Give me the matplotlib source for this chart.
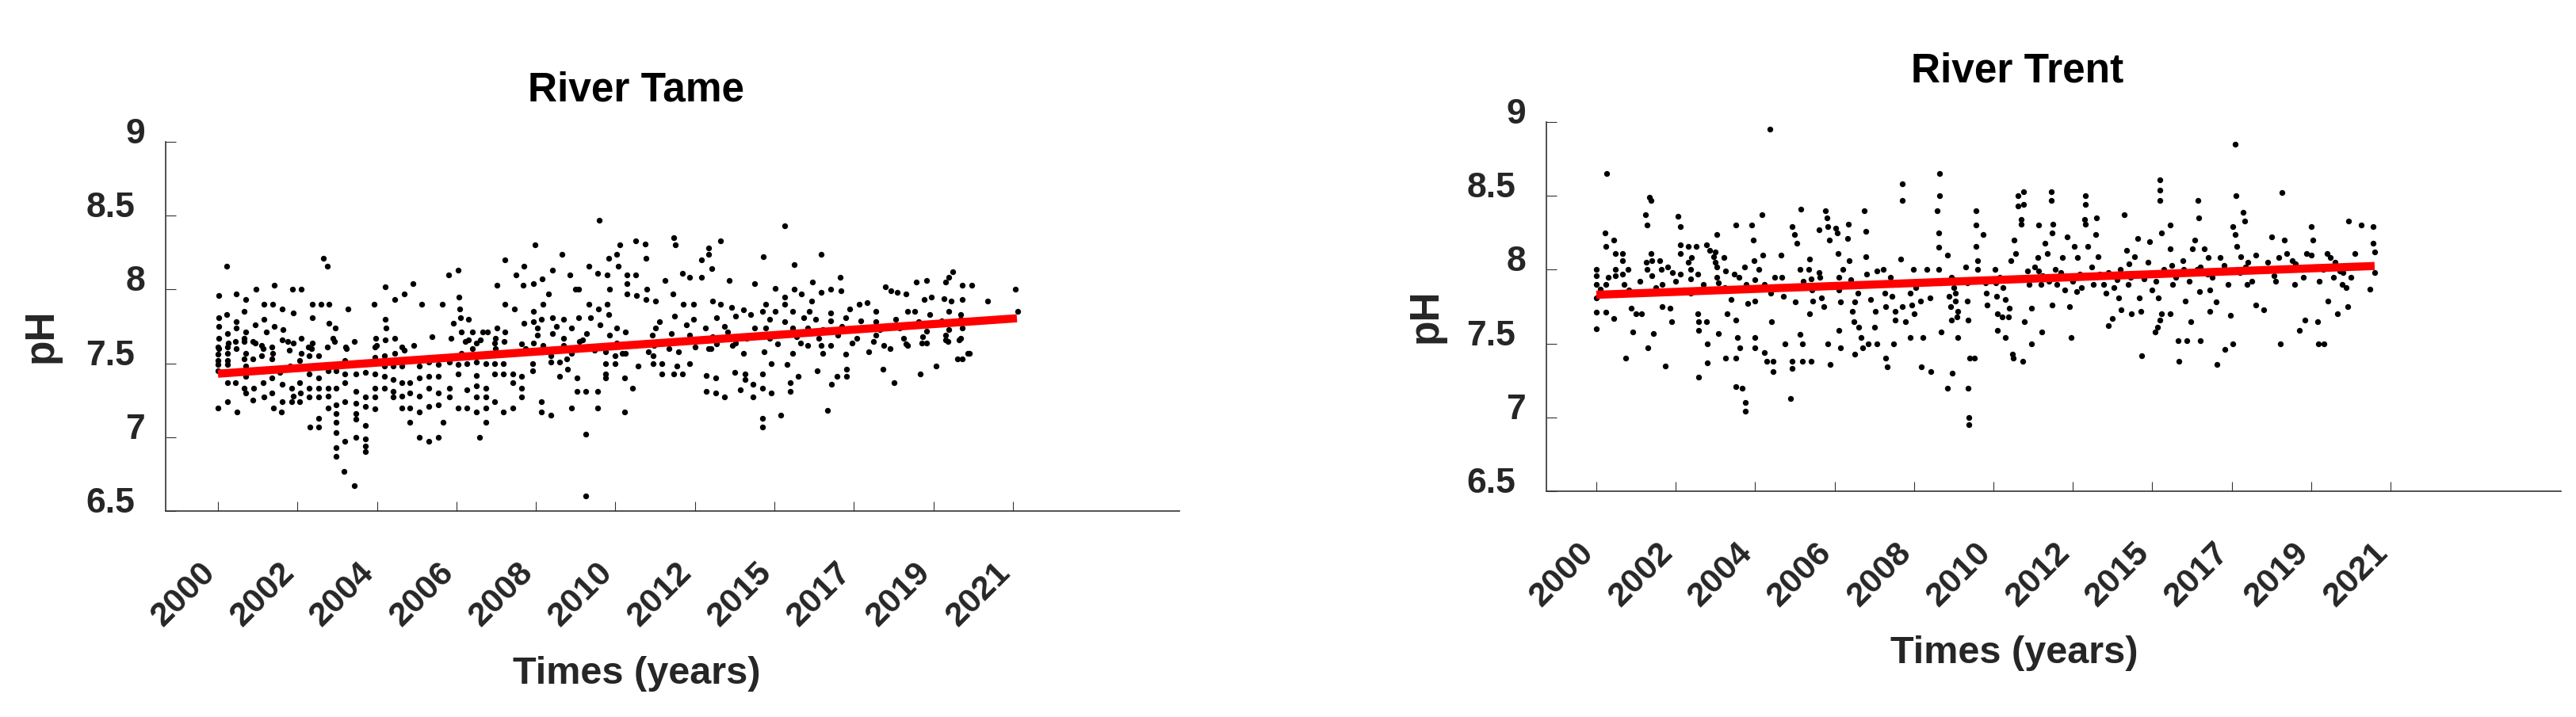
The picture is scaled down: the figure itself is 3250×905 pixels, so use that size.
import matplotlib
matplotlib.use("Agg")
import matplotlib.pyplot as plt
from matplotlib.transforms import ScaledTranslation

plt.rcParams['font.family'] = ['Liberation Sans', 'DejaVu Sans']
plt.rcParams['font.weight'] = 'bold'

# ---------------- data ----------------
year_labels = ["2000", "2002", "2004", "2006", "2008", "2010",
               "2012", "2015", "2017", "2019", "2021"]
ph_ticks = [6.5, 7, 7.5, 8, 8.5, 9]
ph_tick_labels = ["6.5", "7", "7.5", "8", "8.5", "9"]

# (position along the sampled time axis, pH)
tame_points = [
    (0.11, 8.16), (0.01, 7.96), (0.23, 7.97), (0.35, 7.93), (0.48, 8.00), (0.71, 8.03), (0.94, 8.00), (1.05, 8.00),
    (0.58, 7.90), (0.69, 7.90), (0.81, 7.87), (0.95, 7.84), (0.33, 7.85), (0.11, 7.83), (0.01, 7.81), (0.23, 7.78),
    (0.58, 7.80), (1.19, 7.81), (0.01, 7.75), (0.23, 7.74), (0.47, 7.76), (0.71, 7.75), (0.12, 7.70), (0.35, 7.71),
    (0.82, 7.73), (0.61, 7.71), (0.01, 7.67), (0.33, 7.67), (0.81, 7.66), (1.05, 7.67), (0.13, 7.64), (0.47, 7.64),
    (0.95, 7.64), (1.19, 7.64), (0.01, 7.60), (0.23, 7.60), (0.57, 7.60), (0.90, 7.59), (1.18, 7.60), (0.12, 7.57),
    (0.35, 7.57), (0.69, 7.57), (1.05, 7.57),
    (1.33, 8.21), (1.38, 8.16), (1.64, 7.87), (1.19, 7.90), (1.30, 7.90), (1.40, 7.90), (1.40, 7.77), (1.48, 7.74),
    (1.45, 7.67), (1.62, 7.60), (1.96, 7.90), (2.10, 8.02), (2.22, 7.93), (2.34, 7.97), (2.45, 8.04), (2.56, 7.90),
    (2.10, 7.80), (2.11, 7.74), (1.98, 7.67), (2.10, 7.66), (2.22, 7.67), (1.99, 7.62), (2.22, 7.57), (2.34, 7.59),
    (2.46, 7.62),
    (2.82, 7.90), (2.90, 8.10), (3.02, 8.13), (3.03, 7.95), (3.04, 7.87), (3.05, 7.81), (2.96, 7.77), (3.15, 7.80),
    (3.06, 7.71), (3.20, 7.71), (3.33, 7.71), (2.69, 7.68), (2.93, 7.67), (3.51, 8.03), (3.61, 8.20), (3.61, 7.90),
    (3.73, 7.87), (3.85, 8.16), (3.75, 8.10), (3.84, 8.03), (3.97, 8.04), (3.97, 7.85), (3.85, 7.77), (3.97, 7.78),
    (3.51, 7.74), (3.61, 7.71), (3.39, 7.71), (3.15, 7.66), (3.30, 7.66), (3.49, 7.67), (3.20, 7.60), (3.49, 7.60),
    (3.87, 7.60), (3.06, 7.57), (3.39, 7.56), (3.73, 7.57),
    (3.99, 8.30), (4.08, 8.07), (4.16, 7.97), (4.09, 7.90), (4.21, 8.13), (4.33, 8.24), (4.43, 8.10), (4.50, 8.00),
    (4.54, 8.00), (4.67, 8.16), (4.78, 8.11), (4.90, 8.10), (4.80, 8.47), (4.92, 8.21), (5.02, 8.24), (5.04, 8.16),
    (4.93, 8.00), (4.90, 7.90), (4.79, 7.87), (4.67, 7.90), (4.92, 7.83), (5.05, 8.30), (5.14, 8.10), (5.14, 8.04),
    (5.25, 8.10), (5.25, 8.33), (5.37, 8.31), (5.38, 8.21), (5.14, 7.97), (5.26, 7.96), (5.39, 8.00), (5.38, 7.93),
    (4.07, 7.80), (4.21, 7.81), (4.35, 7.80), (4.54, 7.81), (4.69, 7.81), (4.02, 7.74), (4.26, 7.75), (4.45, 7.74),
    (4.81, 7.76), (5.02, 7.74), (4.02, 7.69), (4.21, 7.70), (4.35, 7.67), (4.64, 7.70), (4.93, 7.69), (5.12, 7.71),
    (3.97, 7.64), (4.35, 7.62), (4.59, 7.66), (5.02, 7.64), (5.26, 7.62), (4.08, 7.58), (4.45, 7.57), (4.74, 7.59),
    (5.12, 7.57),
    (5.50, 7.92), (5.62, 8.06), (5.73, 8.35), (5.75, 8.30), (5.72, 7.97), (5.84, 8.11), (5.93, 8.08), (6.08, 8.08),
    (5.85, 7.90), (5.98, 7.90), (6.08, 8.20), (6.17, 8.28), (6.17, 8.24), (6.21, 8.14), (6.32, 8.33), (6.43, 8.06),
    (6.22, 7.92), (6.32, 7.90), (6.46, 7.88), (6.61, 7.86), (6.75, 8.04), (5.55, 7.78), (5.74, 7.82), (5.98, 7.80),
    (6.27, 7.81), (6.51, 7.82), (6.70, 7.83), (5.50, 7.74), (5.89, 7.76), (6.13, 7.74), (6.37, 7.75), (6.75, 7.74),
    (5.46, 7.69), (5.70, 7.70), (5.93, 7.69), (6.22, 7.68), (6.41, 7.71), (6.65, 7.67), (5.60, 7.64), (5.98, 7.66),
    (6.27, 7.63), (6.51, 7.64), (5.41, 7.58), (5.79, 7.58), (6.17, 7.60), (6.61, 7.57),
    (6.86, 8.22), (7.01, 8.01), (7.13, 8.43), (7.25, 8.17), (7.25, 8.00), (7.13, 7.95), (7.13, 7.90), (7.34, 7.97),
    (7.48, 8.05), (7.59, 8.24), (7.47, 7.92), (7.59, 7.98), (7.71, 8.00), (7.83, 8.08), (7.84, 7.99), (6.85, 7.85),
    (6.89, 7.90), (7.01, 7.85), (7.23, 7.85), (7.44, 7.85), (7.71, 7.84), (7.95, 7.87), (8.07, 7.90), (8.17, 7.91),
    (6.94, 7.80), (7.13, 7.78), (7.37, 7.81), (7.52, 7.80), (7.71, 7.79), (7.90, 7.81), (8.09, 7.79), (6.89, 7.74),
    (7.23, 7.74), (7.42, 7.74), (7.61, 7.73), (7.85, 7.75), (8.09, 7.74), (6.94, 7.67), (7.28, 7.68), (7.56, 7.67),
    (7.80, 7.69), (8.04, 7.67), (7.04, 7.63), (7.42, 7.62), (7.71, 7.62), (7.98, 7.64), (7.23, 7.57), (7.61, 7.57),
    (7.90, 7.56), (8.19, 7.58),
    (8.28, 7.85), (8.40, 8.02), (8.46, 7.99), (8.54, 7.98), (8.65, 7.97), (8.67, 7.85), (8.78, 8.05), (8.91, 8.06),
    (8.88, 7.93), (8.97, 7.95), (9.15, 8.05), (9.19, 8.08), (9.24, 8.12), (9.13, 7.94), (9.22, 7.92), (9.36, 8.03),
    (9.48, 8.03), (9.36, 7.93), (9.68, 7.92), (10.03, 8.00), (10.06, 7.85), (8.76, 7.85), (8.95, 7.83), (9.19, 7.85),
    (9.34, 7.83), (8.28, 7.78), (8.52, 7.80), (8.81, 7.78), (9.10, 7.79), (9.34, 7.80), (8.33, 7.73), (8.57, 7.74),
    (8.91, 7.72), (9.19, 7.73), (9.36, 7.74), (8.28, 7.69), (8.62, 7.67), (8.86, 7.68), (9.15, 7.69), (9.34, 7.67),
    (8.38, 7.62), (8.67, 7.62), (8.91, 7.64), (9.15, 7.66), (9.32, 7.66), (9.36, 7.53), (9.45, 7.57),
    # band just above the trend line
    (0.22, 7.65), (0.33, 7.65), (0.44, 7.65), (0.88, 7.65), (1.47, 7.65), (1.71, 7.65), (1.38, 7.61), (1.61, 7.61),
    (1.97, 7.61), (2.31, 7.61), (0.68, 7.61), (0.55, 7.62), (1.14, 7.61), (0.12, 7.61), (0.00, 7.61),
    (3.11, 7.65), (3.25, 7.64), (3.48, 7.64), (3.60, 7.65), (3.82, 7.63), (4.09, 7.62), (4.19, 7.55), (4.39, 7.53),
    (4.55, 7.65), (4.88, 7.58), (5.08, 7.57), (5.48, 7.62), (5.67, 7.60), (6.00, 7.61), (6.20, 7.60), (6.47, 7.62),
    (6.87, 7.58), (7.33, 7.64), (7.59, 7.62), (8.25, 7.65), (8.45, 7.60), (8.65, 7.63), (8.85, 7.64), (9.18, 7.65),
    # lower part
    (0.00, 7.56), (0.00, 7.52), (0.00, 7.49), (0.00, 7.45), (0.00, 7.20), (0.12, 7.52), (0.12, 7.49), (0.12, 7.37),
    (0.12, 7.24), (0.22, 7.37), (0.24, 7.17), (0.33, 7.53), (0.33, 7.33), (0.35, 7.48), (0.35, 7.41), (0.35, 7.30),
    (0.44, 7.53), (0.44, 7.25), (0.45, 7.33), (0.55, 7.55), (0.57, 7.37), (0.58, 7.27), (0.68, 7.53), (0.68, 7.40),
    (0.68, 7.30), (0.70, 7.20), (0.78, 7.44), (0.81, 7.36), (0.81, 7.24), (0.80, 7.17), (0.91, 7.48), (0.93, 7.33),
    (0.93, 7.24), (0.95, 7.28), (1.03, 7.52), (1.03, 7.37), (1.03, 7.24), (1.04, 7.30),
    (1.15, 7.55), (1.15, 7.43), (1.15, 7.33), (1.15, 7.27), (1.16, 7.07), (1.27, 7.55), (1.27, 7.40), (1.27, 7.33),
    (1.27, 7.27), (1.27, 7.13), (1.27, 7.07), (1.39, 7.45), (1.39, 7.33), (1.39, 7.28), (1.39, 7.20), (1.49, 7.45),
    (1.49, 7.33), (1.49, 7.22), (1.49, 7.16), (1.49, 7.10), (1.49, 7.03), (1.49, 6.93), (1.49, 6.87), (1.60, 7.52),
    (1.60, 7.43), (1.60, 7.37), (1.60, 7.24), (1.60, 6.97), (1.59, 6.77), (1.73, 7.43), (1.73, 7.31), (1.73, 7.23),
    (1.73, 7.16), (1.73, 7.12), (1.73, 7.00), (1.71, 6.67), (1.85, 7.44), (1.85, 7.27), (1.85, 7.21), (1.85, 7.08),
    (1.85, 6.99), (1.85, 6.94), (1.85, 6.90), (1.97, 7.54), (1.97, 7.43), (1.97, 7.33), (1.97, 7.27), (1.97, 7.19),
    (2.09, 7.55), (2.09, 7.48), (2.09, 7.41), (2.09, 7.33), (2.20, 7.48), (2.20, 7.39), (2.20, 7.31), (2.20, 7.27),
    (2.31, 7.48), (2.31, 7.37), (2.31, 7.28), (2.31, 7.20), (2.41, 7.52), (2.41, 7.37), (2.41, 7.30), (2.41, 7.20),
    (2.41, 7.10), (2.53, 7.48), (2.53, 7.40), (2.53, 7.28), (2.53, 7.17), (2.53, 7.00), (2.65, 7.51), (2.65, 7.41),
    (2.65, 7.33), (2.65, 7.21), (2.65, 6.97), (2.77, 7.49), (2.77, 7.41), (2.77, 7.30), (2.77, 7.22), (2.77, 7.00),
    (2.83, 7.10), (2.91, 7.51), (2.91, 7.33), (2.91, 7.27), (3.02, 7.49), (3.02, 7.43), (3.02, 7.20), (3.13, 7.50),
    (3.13, 7.32), (3.13, 7.20), (3.25, 7.51), (3.25, 7.42), (3.25, 7.35), (3.25, 7.27), (3.25, 7.17), (3.29, 7.00),
    (3.37, 7.50), (3.37, 7.33), (3.37, 7.27), (3.37, 7.20), (3.37, 7.10), (3.48, 7.50), (3.48, 7.43), (3.48, 7.24),
    (3.59, 7.50), (3.59, 7.43), (3.59, 7.17), (3.71, 7.43), (3.71, 7.37), (3.71, 7.20), (3.82, 7.41), (3.82, 7.33),
    (3.82, 7.27), (3.96, 7.50), (3.96, 7.45),
    (4.07, 7.24), (4.07, 7.17), (4.19, 7.15), (4.19, 7.51), (4.30, 7.51), (4.30, 7.41), (4.40, 7.46), (4.45, 7.20),
    (4.52, 7.40), (4.52, 7.31), (4.63, 7.31), (4.63, 7.02), (4.63, 6.60), (4.78, 7.31), (4.78, 7.20), (4.88, 7.50),
    (4.88, 7.43), (4.88, 7.40), (5.00, 7.50), (5.00, 7.55), (5.11, 7.40), (5.11, 7.17), (5.21, 7.33), (5.28, 7.48),
    (5.47, 7.55), (5.47, 7.50), (5.58, 7.50), (5.58, 7.43), (5.73, 7.43), (5.77, 7.48), (5.84, 7.43), (5.93, 7.50),
    (6.14, 7.42), (6.14, 7.31), (6.26, 7.40), (6.26, 7.30), (6.37, 7.27), (6.50, 7.44), (6.57, 7.32), (6.63, 7.43),
    (6.63, 7.39), (6.73, 7.36), (6.73, 7.27), (6.85, 7.43), (6.85, 7.33), (6.85, 7.13), (6.85, 7.07), (6.96, 7.50),
    (6.96, 7.30), (7.08, 7.15), (7.16, 7.49), (7.20, 7.37), (7.20, 7.31), (7.30, 7.41), (7.54, 7.45), (7.67, 7.18),
    (7.72, 7.36), (7.79, 7.41), (7.91, 7.46), (7.91, 7.41), (8.37, 7.46), (8.50, 7.37), (8.83, 7.43), (9.03, 7.48),
    (9.30, 7.53), (9.43, 7.57),
]

trent_points = [
    (0.00, 8.00), (0.00, 7.96), (0.00, 7.90), (0.00, 7.81), (0.00, 7.71), (0.00, 7.60), (0.11, 8.25), (0.12, 8.16),
    (0.12, 7.90), (0.12, 7.71), (0.22, 8.20), (0.24, 8.11), (0.24, 8.00), (0.24, 7.96), (0.22, 7.67), (0.33, 8.11),
    (0.33, 8.06), (0.33, 7.97), (0.35, 7.90), (0.37, 7.40), (0.41, 7.86), (0.44, 7.74), (0.46, 7.58), (0.50, 7.70),
    (0.57, 7.70), (0.62, 8.37), (0.64, 8.30), (0.63, 8.05), (0.64, 8.00), (0.65, 7.47), (0.69, 8.11), (0.70, 8.06),
    (0.70, 7.96), (0.72, 7.57), (0.80, 8.06), (0.82, 8.00), (0.83, 7.90), (0.83, 7.75), (0.87, 7.35), (0.93, 7.74),
    (0.95, 7.65), (0.96, 7.98), (1.03, 8.36), (1.06, 8.29), (1.06, 8.17), (1.06, 8.11), (1.06, 7.97),
    (1.16, 8.16), (1.16, 8.05), (1.19, 8.00), (1.19, 7.94), (1.19, 7.84), (1.26, 8.16), (1.28, 7.97), (1.28, 7.70),
    (1.29, 7.65), (1.29, 7.59), (1.29, 7.27), (1.39, 8.17), (1.39, 7.65), (1.40, 7.50), (1.40, 7.37), (1.43, 8.13),
    (1.48, 8.09), (1.52, 8.02), (1.54, 7.91), (1.52, 8.24), (1.54, 7.57), (1.61, 8.08), (1.63, 7.99), (1.65, 7.70),
    (1.63, 7.40), (1.74, 7.97), (1.76, 8.30), (1.76, 7.66), (1.76, 7.40), (1.76, 7.21), (1.78, 7.54), (1.81, 7.47),
    (1.84, 7.20), (1.87, 8.02), (1.89, 7.90), (1.91, 7.77), (1.96, 8.30), (1.98, 8.20), (1.99, 8.06), (2.00, 7.93),
    (2.00, 7.79), (2.00, 7.54), (2.00, 7.47),
    (2.09, 8.37), (2.10, 8.10), (2.12, 7.90), (2.12, 7.44), (2.15, 7.38), (2.20, 7.84), (2.21, 7.65), (2.23, 7.38),
    (2.23, 7.31), (2.33, 8.10), (2.34, 7.95), (2.36, 7.82), (2.38, 7.50), (2.46, 8.29), (2.46, 7.38), (2.46, 7.33),
    (2.49, 8.24), (2.52, 8.18), (2.56, 8.00), (2.56, 7.56), (2.57, 8.41), (2.59, 7.50), (2.59, 7.38), (2.67, 8.00),
    (2.68, 7.70), (2.72, 7.79), (2.70, 7.38), (2.80, 8.27), (2.81, 7.95), (2.83, 7.81), (2.86, 7.75), (2.88, 8.40),
    (2.90, 8.35), (2.91, 8.29), (2.93, 8.20), (2.91, 7.50), (2.94, 7.36),
    (3.01, 8.28), (3.03, 8.25), (3.04, 8.11), (3.05, 7.59), (3.07, 7.47), (3.16, 8.21), (3.17, 8.31), (3.18, 8.06),
    (3.20, 7.93), (3.22, 7.72), (3.24, 7.65), (3.25, 7.43), (3.29, 7.84), (3.30, 7.61), (3.33, 7.54), (3.35, 7.47),
    (3.37, 8.40), (3.39, 8.26), (3.39, 8.09), (3.40, 7.97), (3.42, 7.50), (3.46, 7.90), (3.50, 7.61), (3.51, 7.72),
    (3.53, 7.50), (3.53, 7.99), (3.61, 8.00), (3.63, 7.84), (3.64, 7.75), (3.64, 7.40), (3.66, 7.34), (3.72, 7.82),
    (3.74, 7.50), (3.76, 7.72), (3.76, 7.66), (3.83, 8.07), (3.85, 7.75), (3.89, 7.65), (3.95, 7.54),
    (3.99, 8.00), (4.02, 7.88), (4.08, 7.79), (4.09, 7.34), (4.11, 7.54), (4.16, 8.00), (4.18, 7.91), (4.20, 7.81),
    (4.21, 7.31), (4.29, 8.40), (4.31, 8.25), (4.31, 8.15), (4.31, 8.00), (4.33, 7.91), (4.34, 7.58), (4.42, 8.10),
    (4.44, 7.82), (4.46, 7.75), (4.47, 7.66), (4.42, 7.20), (4.50, 7.93), (4.52, 7.84), (4.54, 7.68), (4.55, 7.54),
    (4.48, 7.30), (4.65, 8.02), (4.67, 7.91), (4.67, 7.79), (4.68, 7.66), (4.68, 7.20), (4.70, 7.40), (4.76, 7.40),
    (4.78, 8.40), (4.78, 8.30), (4.78, 8.16), (4.80, 8.06), (4.80, 8.00), (4.87, 8.24), (4.90, 7.91), (4.91, 7.84),
    (4.92, 7.76),
    (5.03, 7.91), (5.04, 7.82), (5.05, 7.70), (5.05, 7.59), (5.11, 7.68), (5.15, 7.54), (5.19, 7.68), (5.22, 8.06),
    (5.24, 7.43), (5.25, 7.40), (5.31, 8.43), (5.35, 8.34), (5.35, 8.31), (5.37, 7.38), (5.26, 8.20), (5.28, 8.11),
    (5.39, 7.65), (5.43, 7.99), (5.45, 7.90), (5.48, 7.74), (5.48, 7.50), (5.56, 8.08), (5.57, 7.99), (5.60, 7.90),
    (5.61, 7.58), (5.57, 8.30), (5.65, 8.18), (5.68, 8.11), (5.75, 8.31), (5.74, 7.76), (5.74, 8.25), (5.78, 8.00),
    (5.80, 7.90), (5.87, 8.08), (5.93, 8.22), (5.96, 7.75), (5.98, 7.54),
    (6.02, 8.16), (6.06, 8.08), (6.09, 7.97), (6.11, 7.88), (6.15, 8.34), (6.16, 8.31), (6.19, 8.16), (6.24, 8.02),
    (6.26, 7.90), (6.29, 8.24), (6.30, 8.35), (6.32, 8.09), (6.34, 7.97), (6.39, 7.90), (6.42, 7.84), (6.45, 7.62),
    (6.50, 7.67), (6.56, 7.93), (6.58, 7.81), (6.61, 7.73), (6.65, 8.37), (6.68, 8.13), (6.71, 8.04), (6.73, 7.95),
    (6.74, 7.70), (6.78, 8.09), (6.81, 7.97), (6.84, 7.81), (6.86, 7.72), (6.87, 7.42), (6.82, 8.21),
    (6.97, 8.19), (6.99, 7.97), (7.00, 7.86), (7.04, 7.58), (7.07, 7.61), (7.08, 7.81), (7.10, 7.66), (7.12, 7.70),
    (7.12, 8.25), (7.23, 8.30), (7.23, 8.14), (7.25, 8.03), (7.23, 7.70), (7.26, 7.90), (7.33, 7.52), (7.34, 7.38),
    (7.39, 8.06), (7.42, 7.79), (7.44, 7.52), (7.49, 7.65), (7.51, 8.14), (7.54, 8.20), (7.56, 8.00), (7.58, 8.35),
    (7.59, 7.85), (7.60, 7.52), (7.65, 8.14), (7.69, 7.97), (7.72, 7.86), (7.72, 7.72), (7.80, 7.78), (7.81, 7.36),
    (7.85, 8.08), (7.91, 7.46), (7.98, 7.69),
    (8.01, 7.50), (8.01, 8.29), (8.04, 8.24), (8.06, 8.16), (8.07, 8.00), (8.11, 8.09), (8.14, 8.39), (8.16, 8.33),
    (8.17, 8.02), (8.19, 7.90), (8.30, 8.10), (8.30, 7.76), (8.33, 8.00), (8.40, 7.73), (8.50, 8.22), (8.53, 7.96),
    (8.59, 8.08), (8.61, 7.50), (8.66, 8.20), (8.69, 8.11), (8.76, 8.06), (8.79, 7.90), (8.85, 7.59), (8.89, 8.00),
    (8.92, 7.66), (8.94, 8.11), (9.00, 8.29), (9.02, 8.20), (9.05, 8.02), (9.08, 7.65), (9.09, 7.50), (9.16, 7.50),
    (9.20, 8.11), (9.21, 7.79), (9.24, 8.08), (9.28, 7.95), (9.33, 7.70), (9.36, 7.99), (9.39, 7.90), (9.44, 7.88),
    (9.46, 7.75), (9.47, 8.33), (9.55, 8.11), (9.63, 8.30), (9.74, 7.87), (9.78, 8.29), (9.80, 8.12), (9.80, 7.98),
    (9.78, 8.18),
    # outliers
    (0.13, 8.65), (0.67, 8.49), (0.69, 8.47), (2.19, 8.95), (3.85, 8.58), (3.85, 8.47), (4.32, 8.65), (4.32, 8.50),
    (5.31, 8.50), (5.38, 8.53), (5.38, 8.44), (5.73, 8.53), (5.73, 8.47), (6.16, 8.50), (6.16, 8.44), (7.10, 8.61),
    (7.10, 8.54), (7.10, 8.47), (8.04, 8.85), (8.05, 8.50), (7.57, 8.47), (8.63, 8.52), (1.88, 7.10), (1.88, 7.04),
    (2.44, 7.13), (4.69, 7.00), (4.69, 6.95),
    # dense band around the trend
    (1.50, 8.12), (1.50, 8.05), (1.52, 7.95), (2.68, 8.07), (2.70, 7.94), (2.71, 7.86), (3.05, 7.95), (3.05, 7.86),
    (3.07, 7.78), (3.95, 7.84), (3.97, 7.76), (4.00, 7.70), (4.47, 7.95), (4.50, 7.88), (4.52, 7.79), (4.55, 7.72),
    (5.02, 8.00), (5.08, 7.95), (5.12, 7.88), (5.15, 7.80), (5.20, 7.74), (5.52, 8.02), (5.62, 7.96), (5.70, 7.92),
    (5.85, 7.98), (5.90, 7.86), (6.00, 7.92), (6.05, 7.85), (6.45, 7.98), (6.52, 7.88), (6.60, 8.00), (6.70, 7.90),
    (6.90, 7.94), (6.95, 8.05), (7.05, 7.92), (7.15, 8.00), (7.30, 7.95), (7.40, 8.00), (7.47, 7.92), (7.60, 8.02),
    (7.70, 8.08), (7.75, 7.95), (7.90, 8.03), (7.95, 7.90), (8.10, 7.98), (8.20, 8.05), (8.25, 7.92), (8.45, 8.05),
    (8.55, 7.92), (8.70, 8.00), (8.80, 8.04), (8.90, 7.95), (9.00, 8.10), (9.10, 7.92), (9.15, 8.00), (9.30, 8.05),
    (9.40, 7.98), (9.50, 7.95), (9.60, 8.02), (0.05, 7.87), (0.15, 7.95), (0.25, 7.83), (0.40, 8.00), (0.55, 7.92),
    (0.75, 7.88), (0.90, 8.02), (1.00, 7.92), (1.10, 7.86), (1.20, 8.08), (1.35, 7.90), (1.62, 7.88), (1.70, 7.80),
    (1.80, 7.95), (2.05, 8.00), (2.25, 7.95), (2.40, 7.88), (2.50, 7.78), (2.60, 7.92), (2.80, 7.98), (3.10, 8.00),
    (3.25, 7.78), (3.45, 7.80), (3.55, 7.90), (3.70, 7.95), (3.80, 7.90),
]

# linear trend end points (position, pH)
tame_trend_pos = [0.0, 10.05]
tame_trend_ph = [7.43, 7.805]
trent_trend_pos = [0.0, 9.8]
trent_trend_ph = [7.83, 8.025]

# ---------------- figure ----------------
W, H = 3250, 905
fig = plt.figure(figsize=(W / 100, H / 100), dpi=100)
TXT = '#262626'


def px_axes(left, right, top, bottom):
    return [left / W, (H - bottom) / H, (right - left) / W, (bottom - top) / H]


def draw_panel(ax, points, tpos, tph, xlim):
    xs = [p[0] for p in points]
    ys = [p[1] for p in points]
    ax.scatter(xs, ys, s=28, c='black', linewidths=0, zorder=2)
    ax.plot(tpos, tph, color='#FF0000', lw=7.4, solid_capstyle='butt', zorder=3)
    ax.set_xlim(*xlim)
    ax.set_ylim(6.5, 9)
    for s in ('top', 'right'):
        ax.spines[s].set_visible(False)
    for s in ('left', 'bottom'):
        ax.spines[s].set_color('#333333')
        ax.spines[s].set_linewidth(1.2)
    ax.set_xticks(range(len(year_labels)))
    ax.set_xticklabels(year_labels)
    ax.set_yticks(ph_ticks)
    ax.set_yticklabels(ph_tick_labels)
    ax.tick_params(axis='x', direction='in', length=9, width=0.8, colors='#333333',
                   labelcolor=TXT, labelsize=31, pad=57)
    ax.tick_params(axis='y', direction='in', length=9.5, width=0.8, colors='#333333',
                   labelcolor=TXT, labelsize=32, pad=28)
    for lab in ax.get_xticklabels():
        lab.set_rotation(45)
        lab.set_ha('right')
        lab.set_va('baseline')
        lab.set_rotation_mode('anchor')
        lab.set_fontweight('bold')
        lab.set_transform(lab.get_transform() +
                          ScaledTranslation(-0.02, 0, fig.dpi_scale_trans))
    for lab, txt in zip(ax.get_yticklabels(), ph_tick_labels):
        lab.set_va('baseline')
        lab.set_fontweight('bold')
        dx = 0.0 if '.' in txt else 0.13
        lab.set_transform(lab.get_transform() +
                          ScaledTranslation(dx, -0.02, fig.dpi_scale_trans))


ax1 = fig.add_axes(px_axes(209, 1488, 179, 645))
draw_panel(ax1, tame_points, tame_trend_pos, tame_trend_ph, (-0.658, 12.094))
ax2 = fig.add_axes(px_axes(1951, 3231, 154, 620))
draw_panel(ax2, trent_points, trent_trend_pos, trent_trend_ph, (-0.629, 12.146))

# titles
fig.text(802 / W, 1 - 128 / H, 'River Tame', ha='center', va='baseline',
         fontsize=37, fontweight='bold', color='black')
fig.text(2545 / W, 1 - 103 / H, 'River Trent', ha='center', va='baseline',
         fontsize=37, fontweight='bold', color='black')
# x labels
fig.text(803 / W, 1 - 863 / H, 'Times (years)', ha='center', va='baseline',
         fontsize=35, fontweight='bold', color=TXT)
fig.text(2541 / W, 1 - 837 / H, 'Times (years)', ha='center', va='baseline',
         fontsize=35, fontweight='bold', color=TXT)
# y labels
fig.text(52 / W, 1 - 424 / H, 'pH', rotation=90, ha='center', va='center',
         fontsize=37, fontweight='bold', color=TXT)
fig.text(1799 / W, 1 - 399 / H, 'pH', rotation=90, ha='center', va='center',
         fontsize=37, fontweight='bold', color=TXT)

fig.savefig('out.png', dpi=100, facecolor='white')
